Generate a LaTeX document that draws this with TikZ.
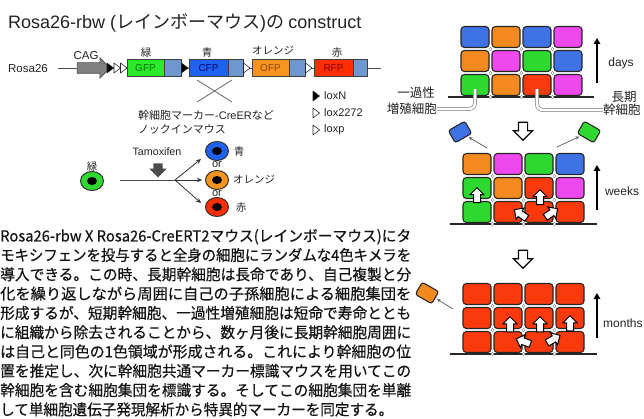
\documentclass[tikz,border=0pt]{standalone}
\usepackage{fontspec}
\usepackage{graphicx}
\setmainfont{Noto Sans CJK JP}
\newfontfamily\lat{Liberation Sans}
\newfontfamily\bodyfont{Noto Sans CJK JP}[FakeBold=0.5]
\usetikzlibrary{arrows.meta,shapes.arrows,shapes.geometric}

\definecolor{cGreen}{HTML}{2ED82E}
\definecolor{cBlue}{HTML}{3F72E4}
\definecolor{cOrange}{HTML}{F48A1E}
\definecolor{cMag}{HTML}{EE48EE}
\definecolor{cRed}{HTML}{FA3A0C}
\definecolor{cTag}{HTML}{6E97CF}
\definecolor{cGFP}{HTML}{2BEA2B}
\definecolor{cCFP}{HTML}{1E62EE}
\definecolor{cOFP}{HTML}{F7941E}
\definecolor{cRFP}{HTML}{FF2E00}
\definecolor{cInk}{HTML}{222222}
\definecolor{cArrow}{HTML}{808080}

% recombination site marker: x, y, fill
\newcommand\loxmark[3]{%
  \filldraw[fill=#3, draw=black!85, line width=0.6pt, line join=round]
    (#1,#2-5) -- (#1+6.5,#2) -- (#1,#2+5) -- cycle;}
% one justified line of the paragraph: index, baseline, width, text
\newcommand\pline[4]{%
  \node[ptext] (p#1) at (0,#2) {\resizebox{#3pt}{\height}{#4}};}

\begin{document}
\begin{tikzpicture}[x=1pt, y=-1pt,
  ink/.style={text=cInk, inner sep=0pt},
  latlab/.style={ink, font=\lat\fontsize{#1}{#1}\selectfont},
  jplab/.style={ink, font=\fontsize{#1}{#1}\selectfont},
  ptext/.style={anchor=base west, inner sep=0pt, text=black!92,
    font=\bodyfont\fontsize{15.2}{16}\selectfont},
  fp/.style={draw=black!75, line width=0.8pt, minimum height=17pt,
    inner sep=0pt, font=\lat\fontsize{10}{10}\selectfont},
  tag/.style={fp, fill=cTag},
  backbone/.style={draw=black!70, line width=0.8pt},
  cross/.style={draw=black!55, line width=0.9pt},
  eye/.style={ellipse, draw=black!80, line width=1pt, minimum width=23pt,
    minimum height=19pt, inner sep=0pt},
  pupil/.style={ellipse, fill=black, minimum width=10pt, minimum height=8pt,
    inner sep=0pt},
  branch/.style={draw=black!80, line width=0.8pt,
    -{Stealth[length=5pt,width=4.5pt]}},
  tamox/.style={single arrow, fill=black!70, inner sep=4.5pt,
    single arrow head extend=4pt, minimum height=12pt, rotate=-90},
  cell/.style={draw=black!85, line width=1.1pt, rounded corners=3.5pt,
    minimum width=28pt, minimum height=21pt, inner sep=0pt},
  fly/.style={cell, minimum width=19pt, minimum height=14pt,
    rounded corners=2.5pt},
  dot/.style={draw=gray, fill=white, line width=0.4pt},
  base/.style={draw=black!85, line width=1.2pt},
  leader/.style={draw=black!55, double=white, double distance=2.6pt,
    line width=0.6pt, rounded corners=6pt},
  hollow/.style={single arrow, draw=black, fill=white, line width=1.2pt,
    inner sep=4pt, single arrow head extend=5pt, minimum height=18pt},
  push/.style={hollow, line width=1pt, inner sep=3pt,
    single arrow head extend=3.5pt, minimum height=15pt},
  timearrow/.style={draw=black, line width=1.6pt,
    -{Triangle[length=6pt,width=6.5pt]}},
  popout/.style={draw=black!65, line width=0.7pt,
    -{Stealth[length=4pt,width=3.5pt]}, shorten >=1.5pt}
]
\useasboundingbox (0,0) rectangle (644,419);

% ---------------- title ----------------
\node[ink, anchor=base west, font=\fontsize{18}{18}\selectfont] (title) at (8,29)
  {{\lat Rosa26-rbw (}レインボーマウス{\lat )}の {\lat construct}};

% ---------------- construct ----------------
\node[latlab=11.5] (rosa) at (28,69) {Rosa26};
\coordinate (bbL) at (58,68);
\coordinate (bbR) at (381,68);
\draw[backbone] (bbL) -- (bbR);

\node[single arrow, fill=cArrow, draw=black!70, line width=0.6pt, inner sep=5pt,
  single arrow head extend=5pt, minimum height=33pt] (cag) at (91,68) {};
\node[latlab=11.5] (caglab) at (86,56) {CAG};
\loxmark{107}{68}{black}
\loxmark{114}{68}{white}
\loxmark{120.5}{68}{white}

\node[fp, fill=cGFP, minimum width=37pt, text=green!45!black] (gfp) at (145.5,68) {GFP};
\node[tag, minimum width=17pt] (gfpt) at (172.5,68) {};
\loxmark{181.5}{68}{black}
\node[fp, fill=cCFP, minimum width=39pt, text=blue!45!black] (cfp) at (208.5,68) {CFP};
\node[tag, minimum width=15pt] (cfpt) at (235.5,68) {};
\loxmark{243.5}{68}{white}
\node[fp, fill=cOFP, minimum width=37pt, text=orange!55!black] (ofp) at (270.5,68) {OFP};
\node[tag, minimum width=16pt] (ofpt) at (297,68) {};
\loxmark{305.5}{68}{white}
\node[fp, fill=cRFP, minimum width=39pt, text=red!50!black] (rfp) at (333.5,68) {RFP};
\node[tag, minimum width=14pt] (rfpt) at (360,68) {};

\node[jplab=10.5] (lg) at (146,53) {緑};
\node[jplab=10.5] (lb) at (207,53) {青};
\node[jplab=10.5] (lo) at (273,51) {オレンジ};
\node[jplab=10.5] (lr) at (337,53) {赤};

% Cre recombination cross
\coordinate (x1) at (197,80);
\coordinate (x2) at (232,102);
\coordinate (x3) at (197,102);
\coordinate (x4) at (232,80);
\draw[cross] (x1) -- (x2);
\draw[cross] (x3) -- (x4);
\node[jplab=11, anchor=west] (ki1) at (138,115) {幹細胞マーカー{\lat -CreER}など};
\node[jplab=11, anchor=west] (ki2) at (138,129) {ノックインマウス};

% legend
\loxmark{313}{96}{black}
\loxmark{313}{113}{white}
\loxmark{313}{130}{white}
\node[latlab=11, anchor=west] (lgN) at (324,96) {loxN};
\node[latlab=11, anchor=west] (lg2) at (324,113) {lox2272};
\node[latlab=11, anchor=west] (lgp) at (324,130) {loxp};

% ---------------- colour switch ----------------
\node[eye, fill=cGreen] (gcell) at (92,181) {};
\node[pupil] (gpup) at (gcell) {};
\node[jplab=10.5] (gl) at (92,167) {緑};

\node[latlab=10.7] (tam) at (157,152) {Tamoxifen};
\node[tamox] (tamarrow) at (158,168) {};

\coordinate (lineL) at (120,180);
\coordinate (split) at (175,180);
\draw[backbone, line width=0.9pt] (lineL) -- (split);

\node[eye, fill=cCFP] (bcell) at (217,151) {};
\node[pupil] (bpup) at (bcell) {};
\node[eye, fill=cOFP] (ocell) at (217,180) {};
\node[pupil] (opup) at (ocell) {};
\node[eye, fill=cRFP] (rcell) at (217,207) {};
\node[pupil] (rpup) at (rcell) {};

\coordinate (bt) at (201,159);
\coordinate (ot) at (202,180);
\coordinate (rt) at (201,203);
\draw[branch] (split) -- (bt);
\draw[branch] (split) -- (ot);
\draw[branch] (split) -- (rt);

\node[latlab=11] (or1) at (217,165) {or};
\node[latlab=11] (or2) at (217,194) {or};
\node[jplab=10.5] (bl) at (239,152) {青};
\node[jplab=10.5, anchor=west] (ol) at (233,180) {オレンジ};
\node[jplab=10.5] (rl) at (241,208) {赤};

% ---------------- paragraph ----------------
\pline{1}{241.5}{411}{Rosa26-rbw X Rosa26-CreERT2マウス(レインボーマウス)にタ}
\pline{2}{260.8}{411}{モキシフェンを投与すると全身の細胞にランダムな4色キメラを}
\pline{3}{280.1}{411}{導入できる。この時、長期幹細胞は長命であり、自己複製と分}
\pline{4}{299.4}{411}{化を繰り返しながら周囲に自己の子孫細胞による細胞集団を}
\pline{5}{318.7}{411}{形成するが、短期幹細胞、一過性増殖細胞は短命で寿命ととも}
\pline{6}{338.0}{411}{に組織から除去されることから、数ヶ月後に長期幹細胞周囲に}
\pline{7}{357.3}{411}{は自己と同色の1色領域が形成される。これにより幹細胞の位}
\pline{8}{376.6}{411}{置を推定し、次に幹細胞共通マーカー標識マウスを用いてこの}
\pline{9}{395.9}{411}{幹細胞を含む細胞集団を標識する。そしてこの細胞集団を単離}
\pline{10}{415.2}{393}{して単細胞遺伝子発現解析から特異的マーカーを同定する。}

% ---------------- tissue: days ----------------
\coordinate (tb1) at (448,97);
\coordinate (tb2) at (594,97);
\draw[base] (tb1) -- (tb2);
\foreach \y/\cols [count=\r] in {37/{cBlue,cOrange,cBlue,cMag},
    61/{cOrange,cMag,cGreen,cBlue}, 85/{cGreen,cOrange,cRed,cMag}} {
  \foreach \clr [count=\c] in \cols {
    \node[cell, fill=\clr] (t\r\c) at ({475+31*(\c-1)},\y) {};
  }
}
\foreach \x in {490.5,521.5,552.5} \foreach \y in {49,73,97}
  \filldraw[dot] (\x,\y) circle (1.6pt);

\coordinate (glab) at (437,109);
\coordinate (llab) at (603,110);
\draw[leader] ([yshift=7pt]t31.south) |- (glab);
\draw[leader] ([yshift=7pt]t33.south) |- (llab);
\node[jplab=12.5] (trans1) at (416,93) {一過性};
\node[jplab=12.5, anchor=east] (trans2) at (glab) {増殖細胞};
\node[jplab=12.5] (long1) at (624,97) {長期};
\node[jplab=12.5, anchor=west] (long2) at (llab) {幹細胞};

\coordinate (d0) at (597,83);
\coordinate (d1) at (597,38);
\draw[timearrow] (d0) -- (d1);
\node[latlab=12] (days) at (621,63) {days};

\node[hollow, rotate=-90] (down1) at (523,129) {};

% ---------------- tissue: weeks ----------------
\coordinate (mb1) at (450,224);
\coordinate (mb2) at (597,224);
\draw[base] (mb1) -- (mb2);
\foreach \y/\cols [count=\r] in {164/{cOrange,cMag,cGreen,cBlue},
    188/{cGreen,cOrange,cRed,cMag}, 212/{cGreen,cRed,cRed,cRed}} {
  \foreach \clr [count=\c] in \cols {
    \node[cell, fill=\clr] (m\r\c) at ({477+31*(\c-1)},\y) {};
  }
}
\foreach \x in {492.5,523.5,554.5} \foreach \y in {176,200,224}
  \filldraw[dot] (\x,\y) circle (1.6pt);

\node[push, rotate=90] (mp1) at (477,197) {};
\node[push, rotate=90] (mp2) at (540,199) {};
\node[push, rotate=145] (mp3) at (522,215) {};
\node[push, rotate=35] (mp4) at (550,214) {};

\node[fly, fill=cBlue, rotate=30] (flyb) at (460,132) {};
\node[fly, fill=cGreen, rotate=-30] (flyg) at (589,132) {};
\coordinate (fb0) at (487,148);
\coordinate (fg0) at (557,147);
\draw[popout] (fb0) -- (flyb);
\draw[popout] (fg0) -- (flyg);

\coordinate (w0) at (597,210);
\coordinate (w1) at (597,165);
\draw[timearrow] (w0) -- (w1);
\node[latlab=12] (weeks) at (622,191) {weeks};

\node[hollow, rotate=-90] (down2) at (523,257) {};

% ---------------- tissue: months ----------------
\coordinate (bb1) at (450,354);
\coordinate (bb2) at (597,354);
\draw[base] (bb1) -- (bb2);
\foreach \y [count=\r] in {294,318,342} {
  \foreach \c in {1,2,3,4} {
    \node[cell, fill=cRed] (b\r\c) at ({477+31*(\c-1)},\y) {};
  }
}
\foreach \x in {492.5,523.5,554.5} \foreach \y in {306,330,354}
  \filldraw[dot] (\x,\y) circle (1.6pt);

\node[push, rotate=90] (bp1) at (510,326) {};
\node[push, rotate=90] (bp2) at (540,326) {};
\node[push, rotate=90] (bp3) at (570,325) {};
\node[push, rotate=160] (bp4) at (525,342) {};
\node[push, rotate=30] (bp5) at (552,340) {};

\node[fly, fill=cOrange, rotate=-30] (flyo) at (427,293) {};
\coordinate (fo0) at (453,309);
\draw[popout] (fo0) -- (flyo);

\coordinate (mo0) at (597,338);
\coordinate (mo1) at (597,293);
\draw[timearrow] (mo0) -- (mo1);
\node[latlab=12, anchor=west] (months) at (603,323) {months};

\end{tikzpicture}
\end{document}
